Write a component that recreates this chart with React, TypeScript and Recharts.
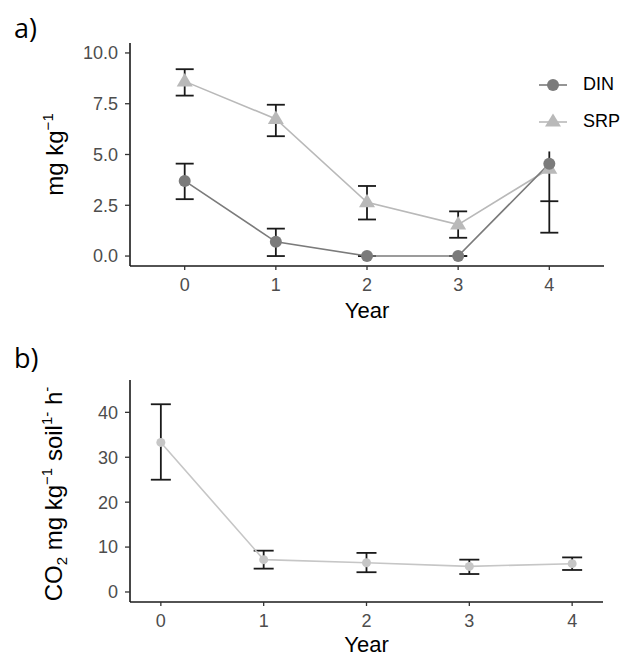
import React from "react";
import {
  ComposedChart,
  Line,
  XAxis,
  YAxis,
  ErrorBar,
  Legend,
} from "recharts";

// panel a) soil nutrients
const years = [0, 1, 2, 3, 4];
const din = [3.7, 0.7, 0, 0, 4.55];
const dinLow = [2.8, 0, 0, 0, 1.15];
const dinHigh = [4.55, 1.35, 0, 0, 2.7];
const srp = [8.6, 6.75, 2.65, 1.55, 4.3];
const srpLow = [7.9, 5.9, 1.8, 0.9, null];
const srpHigh = [9.2, 7.45, 3.45, 2.2, null];
// the bar at year 4 that runs up without a cap
const openLow = [null, null, null, null, 2.7];
const openHigh = [null, null, null, null, 5.15];
const nutrientTicks = [0, 2.5, 5, 7.5, 10];

// panel b) soil respiration
const co2 = [33.3, 7.2, 6.5, 5.7, 6.3];
const co2Low = [25, 5.2, 4.4, 4.0, 4.9];
const co2High = [41.8, 9.2, 8.7, 7.2, 7.7];
const co2Ticks = [0, 10, 20, 30, 40];

const DIN_COLOR = "#7b7b7b";
const SRP_COLOR = "#b9b9b9";
const CO2_COLOR = "#c6c6c6";
const BAR_COLOR = "#1a1a1a";
const FONT = "'Liberation Sans', Arial, sans-serif";

const span = (lo: (number | null)[], hi: (number | null)[], i: number) =>
  lo[i] == null || hi[i] == null ? null : [0, (hi[i] as number) - (lo[i] as number)];

const nutrientData = years.map((year, i) => ({
  year,
  din: din[i],
  srp: srp[i],
  dinBar: dinLow[i],
  dinErr: span(dinLow, dinHigh, i),
  srpBar: srpLow[i],
  srpErr: span(srpLow, srpHigh, i),
  openBar: openLow[i],
  openErr: span(openLow, openHigh, i),
}));

const co2Data = years.map((year, i) => ({
  year,
  co2: co2[i],
  co2Bar: co2Low[i],
  co2Err: span(co2Low, co2High, i),
}));

const tickStyle = { fill: "#4d4d4d", fontSize: 18, fontFamily: FONT };
const axisLine = { stroke: BAR_COLOR, strokeWidth: 1.6 };
const tickLine = { stroke: "#333", strokeWidth: 1.3 };

const Triangle = (props: any) => {
  const { cx, cy, index } = props;
  if (cx == null || cy == null) return <g key={index} />;
  return (
    <polygon
      key={index}
      points={`${cx},${cy - 8.5} ${cx - 8},${cy + 5} ${cx + 8},${cy + 5}`}
      fill={SRP_COLOR}
    />
  );
};

const YLabelA = (props: any) => {
  const { viewBox } = props;
  const cy = viewBox.y + viewBox.height / 2;
  return (
    <text
      x={0}
      y={0}
      transform={`translate(63, ${cy}) rotate(-90)`}
      textAnchor="middle"
      fontFamily={FONT}
      fontSize={24}
      fill="#000"
    >
      <tspan>mg kg</tspan>
      <tspan dy={-10} fontSize={15}>
        −1
      </tspan>
    </text>
  );
};

const YLabelB = (props: any) => {
  const { viewBox } = props;
  const cy = viewBox.y + viewBox.height / 2 + 3;
  return (
    <text
      x={0}
      y={0}
      transform={`translate(62, ${cy}) rotate(-90)`}
      textAnchor="middle"
      fontFamily={FONT}
      fontSize={24}
      fill="#000"
    >
      <tspan>CO</tspan>
      <tspan dy={5} fontSize={15}>2</tspan>
      <tspan dy={-5}> mg kg</tspan>
      <tspan dy={-10} fontSize={15}>−1</tspan>
      <tspan dy={10}> soil</tspan>
      <tspan dy={-10} fontSize={15}>1-</tspan>
      <tspan dy={10}> h</tspan>
      <tspan dy={-10} fontSize={15}>-</tspan>
    </text>
  );
};

const NutrientLegend = () => (
  <div style={{ fontFamily: FONT, fontSize: 18, color: "#000" }}>
    {[
      { name: "DIN", color: DIN_COLOR, shape: "circle" },
      { name: "SRP", color: SRP_COLOR, shape: "triangle" },
    ].map((item) => (
      <div
        key={item.name}
        style={{ display: "flex", alignItems: "center", height: 37 }}
      >
        <svg width={32} height={20} style={{ marginRight: 14 }}>
          <line x1={2} y1={10} x2={30} y2={10} stroke={item.color} strokeWidth={1.6} />
          {item.shape === "circle" ? (
            <circle cx={16} cy={10} r={6} fill={item.color} />
          ) : (
            <polygon points="16,1.5 8,14.5 24,14.5" fill={item.color} />
          )}
        </svg>
        <span>{item.name}</span>
      </div>
    ))}
  </div>
);

const titleStyle: React.CSSProperties = {
  position: "absolute",
  left: 14,
  fontFamily: "'Open Sans', sans-serif",
  fontSize: 27,
  color: "#000",
  lineHeight: 1,
};

export default function App() {
  return (
    <div
      style={{
        position: "absolute",
        left: 0,
        top: 0,
        width: 634,
        height: 658,
        background: "#fff",
      }}
    >
      <div style={{ ...titleStyle, top: 14 }}>a)</div>
      <div style={{ position: "absolute", left: 0, top: 0 }}>
        <ComposedChart
          width={634}
          height={330}
          data={nutrientData}
          margin={{ top: 43, right: 30, bottom: 0, left: 0 }}
        >
          <XAxis
            type="number"
            dataKey="year"
            domain={[-0.6, 4.6]}
            ticks={years}
            allowDataOverflow
            height={64}
            tickSize={4}
            tickMargin={8}
            tick={tickStyle}
            axisLine={axisLine}
            tickLine={tickLine}
            label={{
              value: "Year",
              position: "insideBottom",
              offset: 12,
              fontFamily: FONT,
              fontSize: 22,
              fill: "#000",
            }}
          />
          <YAxis
            type="number"
            domain={[-0.49, 10.49]}
            ticks={nutrientTicks}
            allowDataOverflow
            width={130}
            tickSize={5}
            tickMargin={7}
            tick={tickStyle}
            axisLine={axisLine}
            tickLine={tickLine}
            tickFormatter={(v: number) => v.toFixed(1)}
            label={<YLabelA />}
          />
          <Legend
            verticalAlign="middle"
            align="center"
            layout="vertical"
            content={<NutrientLegend />}
            wrapperStyle={{ position: "absolute", top: 66, left: 537, width: 97 }}
          />
          <Line
            dataKey="dinBar"
            stroke="none"
            dot={false}
            activeDot={false}
            legendType="none"
            isAnimationActive={false}
          >
            <ErrorBar dataKey="dinErr" width={9} stroke={BAR_COLOR} strokeWidth={1.8} />
          </Line>
          <Line
            dataKey="srpBar"
            stroke="none"
            dot={false}
            activeDot={false}
            legendType="none"
            isAnimationActive={false}
          >
            <ErrorBar dataKey="srpErr" width={9} stroke={BAR_COLOR} strokeWidth={1.8} />
          </Line>
          <Line
            dataKey="openBar"
            stroke="none"
            dot={false}
            activeDot={false}
            legendType="none"
            isAnimationActive={false}
          >
            <ErrorBar dataKey="openErr" width={0} stroke={BAR_COLOR} strokeWidth={1.8} />
          </Line>
          <Line
            dataKey="srp"
            name="SRP"
            type="linear"
            stroke={SRP_COLOR}
            strokeWidth={1.6}
            dot={<Triangle />}
            activeDot={false}
            isAnimationActive={false}
          />
          <Line
            dataKey="din"
            name="DIN"
            type="linear"
            stroke={DIN_COLOR}
            strokeWidth={1.6}
            dot={{ r: 6, fill: DIN_COLOR, stroke: "none" }}
            activeDot={false}
            isAnimationActive={false}
          />
        </ComposedChart>
      </div>

      <div style={{ ...titleStyle, top: 344 }}>b)</div>
      <div style={{ position: "absolute", left: 0, top: 330 }}>
        <ComposedChart
          width={634}
          height={328}
          data={co2Data}
          margin={{ top: 50, right: 31, bottom: 0, left: 0 }}
        >
          <XAxis
            type="number"
            dataKey="year"
            domain={[-0.3, 4.3]}
            ticks={years}
            allowDataOverflow
            height={56}
            tickSize={4}
            tickMargin={8}
            tick={tickStyle}
            axisLine={axisLine}
            tickLine={tickLine}
            label={{
              value: "Year",
              position: "insideBottom",
              offset: 6,
              fontFamily: FONT,
              fontSize: 22,
              fill: "#000",
            }}
          />
          <YAxis
            type="number"
            domain={[-2.23, 47.2]}
            ticks={co2Ticks}
            allowDataOverflow
            width={130}
            tickSize={5}
            tickMargin={7}
            tick={tickStyle}
            axisLine={axisLine}
            tickLine={tickLine}
            label={<YLabelB />}
          />
          <Line
            dataKey="co2Bar"
            stroke="none"
            dot={false}
            activeDot={false}
            legendType="none"
            isAnimationActive={false}
          >
            <ErrorBar dataKey="co2Err" width={10} stroke={BAR_COLOR} strokeWidth={1.8} />
          </Line>
          <Line
            dataKey="co2"
            type="linear"
            stroke={CO2_COLOR}
            strokeWidth={1.6}
            dot={{ r: 4.5, fill: CO2_COLOR, stroke: "none" }}
            activeDot={false}
            isAnimationActive={false}
          />
        </ComposedChart>
      </div>
    </div>
  );
}
